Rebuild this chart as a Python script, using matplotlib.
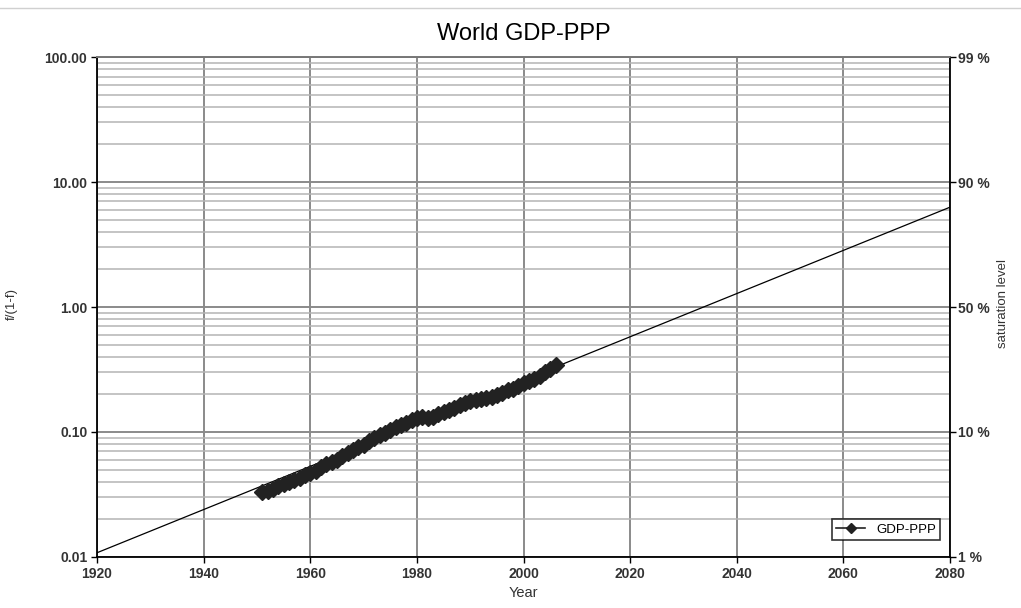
import matplotlib.pyplot as plt
from matplotlib.lines import Line2D
from matplotlib.ticker import FixedLocator, NullFormatter, LogLocator

plt.rcParams['font.family'] = ['Liberation Sans', 'DejaVu Sans']

# Donnees annuelles (f/(1-f))
years = list(range(1951, 2007))
gdp_ppp = [0.033, 0.034, 0.035, 0.037, 0.038, 0.040, 0.041, 0.043, 0.045, 0.047,
           0.049, 0.052, 0.055, 0.057, 0.060, 0.064, 0.068, 0.072, 0.076, 0.079,
           0.084, 0.089, 0.094, 0.099, 0.104, 0.109, 0.114, 0.119, 0.125, 0.130,
           0.131, 0.129, 0.133, 0.139, 0.145, 0.151, 0.157, 0.164, 0.171, 0.178,
           0.181, 0.183, 0.186, 0.192, 0.199, 0.207, 0.215, 0.222, 0.232, 0.245,
           0.254, 0.266, 0.281, 0.300, 0.322, 0.345]

# Courbe logistique ajustee (droite sur echelle log) : extremites
fit_years = [1920, 2080]
fit_values = [0.0108, 6.3]

y_ticks = [0.01, 0.1, 1, 10, 100]
y_labels = ["0.01", "0.10", "1.00", "10.00", "100.00"]
sat_labels = ["1 %", "10 %", "50 %", "90 %", "99 %"]
x_ticks = list(range(1920, 2081, 20))

fig = plt.figure(figsize=(10.21, 6.08), dpi=100)
ax = fig.add_axes([0.095, 0.084, 0.8355, 0.822])

ax.plot(fit_years, fit_values, color='black', lw=0.9, zorder=3)
ax.plot(years, gdp_ppp, color='#222222', lw=2, marker='D', markersize=8,
        label='GDP-PPP', zorder=4)

ax.set_yscale('log')
ax.set_xlim(1920, 2080)
ax.set_ylim(0.01, 100)
ax.set_xticks(x_ticks)
ax.set_yticks(y_ticks)
ax.set_yticklabels(y_labels)
ax.yaxis.set_minor_locator(LogLocator(base=10, subs=range(2, 10)))
ax.yaxis.set_minor_formatter(NullFormatter())

ax.grid(True, which='major', axis='both', color='#8a8a8a', lw=1.4)
ax.grid(True, which='minor', axis='y', color='#b4b4b4', lw=1.1)
ax.set_axisbelow(True)

for s in ['left', 'right', 'bottom']:
    ax.spines[s].set_linewidth(1.3)
    ax.spines[s].set_color('black')
ax.spines['top'].set_color('#777777')
ax.spines['top'].set_linewidth(1.4)

ax.tick_params(axis='both', which='major', direction='out', length=4, width=1,
               labelsize=10, pad=3)
ax.tick_params(axis='y', which='minor', length=0)
for lab in ax.get_xticklabels() + ax.get_yticklabels():
    lab.set_fontweight('bold')
    lab.set_color('#333333')

# Axe droit : niveau de saturation
ax2 = ax.twinx()
ax2.set_yscale('log')
ax2.set_ylim(0.01, 100)
ax2.yaxis.set_major_locator(FixedLocator(y_ticks))
ax2.set_yticklabels(sat_labels)
ax2.yaxis.set_minor_formatter(NullFormatter())
ax2.tick_params(axis='y', which='major', direction='out', length=4, width=1,
                labelsize=10, pad=2)
ax2.tick_params(axis='y', which='minor', length=0)
for lab in ax2.get_yticklabels():
    lab.set_fontweight('bold')
    lab.set_color('#333333')
for s in ax2.spines.values():
    s.set_visible(False)

ax.set_title("World GDP-PPP", fontsize=17, pad=12)
ax.set_xlabel("Year", fontsize=10.5, color='#333333', labelpad=4)
fig.text(0.012, 0.5, "f/(1-f)", rotation=90, fontsize=9.5, color='#333333',
         ha='center', va='center')
fig.text(0.982, 0.5, "saturation level", rotation=90, fontsize=9.5,
         color='#333333', ha='center', va='center')

leg = ax.legend(loc='lower right', bbox_to_anchor=(0.9965, 0.02), fontsize=9.5,
                frameon=True, fancybox=False, edgecolor='black',
                handlelength=2.2, borderpad=0.35, markerscale=0.7)
leg.get_frame().set_linewidth(1.2)
leg.get_lines()[0].set_linewidth(1.2)

# fine ligne grise en haut de l'image
fig.add_artist(Line2D([0, 1], [0.987, 0.987], color='#d0d0d0', lw=1))

fig.savefig('out.png', dpi=100)
